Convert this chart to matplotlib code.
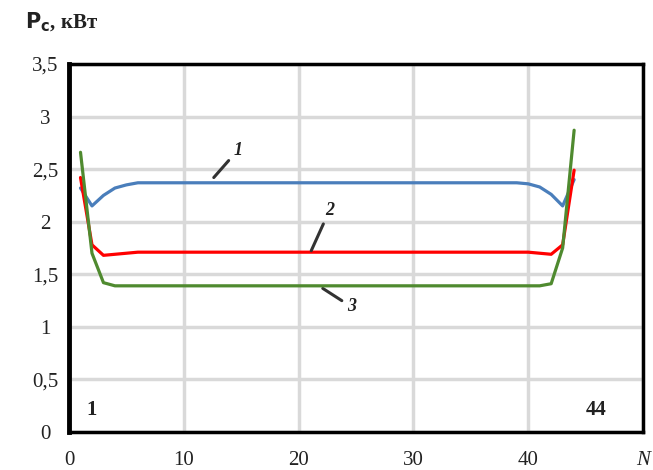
import numpy as np
import matplotlib; matplotlib.use("Agg")
import matplotlib.pyplot as plt

# power per section N = 1..44, three regimes
N = np.arange(1, 45)
p1 = [2.32, 2.15, 2.25, 2.32, 2.35] + [2.37] * 34 + [2.36, 2.33, 2.26, 2.15, 2.40]
p2 = [2.42, 1.78, 1.68, 1.69, 1.70] + [1.71] * 35 + [1.70, 1.69, 1.78, 2.49]
p3 = [2.66, 1.70, 1.42, 1.39] + [1.39] * 36 + [1.39, 1.41, 1.75, 2.87]

yticks = [0, 0.5, 1, 1.5, 2, 2.5, 3, 3.5]
ylabels = ["0", "0,5", "1", "1,5", "2", "2,5", "3", "3,5"]
xticks = [0, 10, 20, 30, 40, 50]
xlabels = ["0", "10", "20", "30", "40", "N"]

serif = "Liberation Serif"
fig = plt.figure(figsize=(6.53, 4.70), dpi=100)
ax = fig.add_axes([0.1057, 0.0809, 0.879, 0.783])

kw = dict(lw=2.3, solid_joinstyle="round", solid_capstyle="round")
ax.plot(N, p1, color="#4a7ebb", zorder=3, **kw)
ax.plot(N, p2, color="#ff0000", zorder=3, **kw)
ax.plot(N, p3, color="#4f8a2f", zorder=4, **kw)

ax.set_xlim(0, 50); ax.set_ylim(0, 3.5)
ax.set_xticks(xticks); ax.set_yticks(yticks)
ax.set_xticklabels(xlabels, fontfamily=serif, fontsize=15, color="#222222")
ax.set_yticklabels(ylabels, fontfamily=serif, fontsize=15, color="#222222")
ax.get_xticklabels()[-1].set_fontstyle("italic")
ax.tick_params(length=0)
ax.tick_params(axis="x", pad=14)
ax.tick_params(axis="y", pad=17)
for t in ax.get_yticklabels(): t.set_horizontalalignment("center")

ax.grid(True, color="#d9d9d9", lw=2.5, zorder=0)
ax.set_axisbelow(True)
for s in ax.spines.values():
    s.set_linewidth(2.5); s.set_color("black")
ax.spines["left"].set_linewidth(3.5)

# curve labels with leaders
lab = dict(fontfamily=serif, fontsize=13, fontstyle="italic", fontweight="bold", color="#222222")
arr = dict(arrowstyle="-", color="#333333", lw=2.2)
ax.annotate("1", xy=(12.45, 2.40), xytext=(14.7, 2.68), ha="center", va="center", arrowprops=arr, **lab)
ax.annotate("2", xy=(21.0, 1.70), xytext=(22.7, 2.11), ha="center", va="center", arrowprops=arr, **lab)
ax.annotate("3", xy=(21.9, 1.38), xytext=(24.6, 1.19), ha="center", va="center", arrowprops=arr, **lab)

ax.text(2.0, 0.21, "1", fontfamily=serif, fontsize=15, fontweight="bold", ha="center", va="center", color="#222222")
ax.text(45.9, 0.21, "44", fontfamily=serif, fontsize=15, fontweight="bold", ha="center", va="center", color="#222222")

fig.text(25 / 653, 1 - 22 / 470, r"$\mathbf{P_c}$, кВт", fontfamily=serif, fontsize=15, fontweight="bold",
         ha="left", va="center", color="#222222")

fig.savefig("out.png", dpi=100)
